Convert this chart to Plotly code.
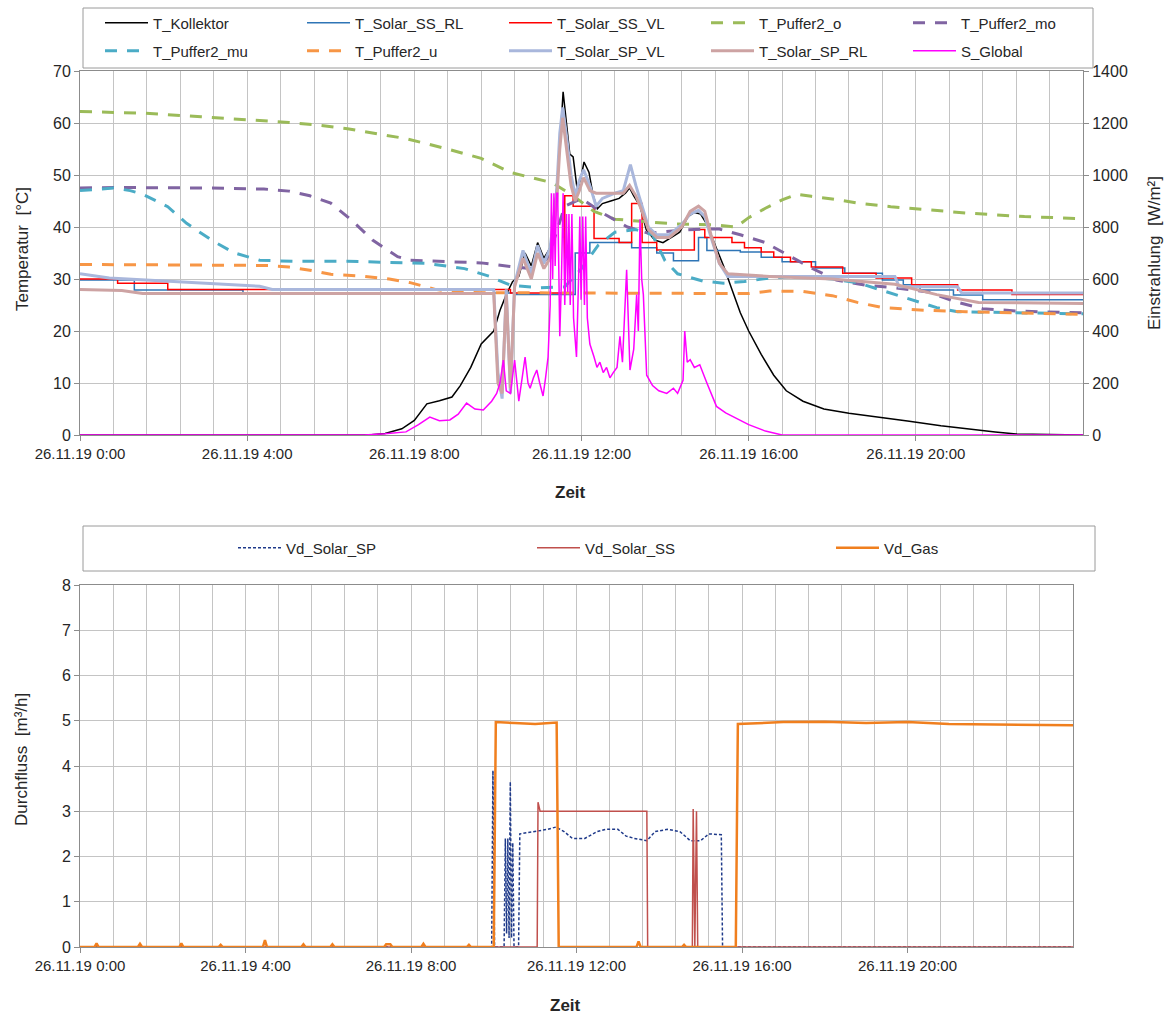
import plotly.graph_objects as go

W, H = 1171, 1018

hour_ticks = [0, 4, 8, 12, 16, 20]
hour_tick_text = ["26.11.19 0:00", "26.11.19 4:00", "26.11.19 8:00",
                  "26.11.19 12:00", "26.11.19 16:00", "26.11.19 20:00"]

# ---------- top chart data: (hour, value) ----------
t_kollektor = [(0, 0), (6.9, 0), (7.3, 0.3), (7.7, 1.2), (8.0, 2.8), (8.3, 6.0), (8.6, 6.6), (8.9, 7.3),
               (9.1, 9.5), (9.35, 13.0), (9.6, 17.5), (9.9, 20.0), (10.05, 24.0), (10.2, 27.0), (10.35, 29.5),
               (10.5, 30.5), (10.65, 35.0), (10.8, 32.5), (10.95, 37.0), (11.1, 34.0), (11.25, 36.0),
               (11.4, 47.0), (11.5, 58.0), (11.56, 66.0), (11.64, 60.0), (11.72, 54.0), (11.8, 53.5),
               (11.9, 47.0), (12.0, 50.0), (12.06, 52.5), (12.18, 50.5), (12.28, 46.0), (12.38, 43.5),
               (12.5, 44.5), (12.7, 45.0), (12.9, 45.5), (13.05, 46.5), (13.15, 47.5), (13.25, 46.0),
               (13.4, 44.0), (13.55, 39.5), (13.75, 37.5), (13.95, 37.0), (14.15, 38.0), (14.35, 39.0),
               (14.55, 42.0), (14.7, 42.8), (14.85, 42.5), (15.0, 40.5), (15.2, 36.5), (15.4, 32.5),
               (15.6, 28.0), (15.8, 23.5), (16.0, 20.0), (16.3, 15.5), (16.6, 11.5), (16.9, 8.5),
               (17.3, 6.5), (17.8, 5.0), (18.4, 4.2), (19.0, 3.5), (19.8, 2.7), (20.6, 1.8), (21.3, 1.1),
               (21.9, 0.6), (22.4, 0.2), (24.0, 0.0)]

t_solar_ss_rl = [(0, 29.8), (1.3, 27.9), (3.9, 27.3), (10.4, 27.0), (11.85, 35.0), (12.2, 37.0), (13.2, 36.0),
                 (13.8, 35.0), (14.2, 33.5), (14.8, 38.0), (15.0, 35.5), (15.8, 35.2), (16.3, 34.2),
                 (16.8, 33.3), (17.6, 32.1), (18.3, 31.1), (19.2, 29.8), (19.7, 28.9), (20.1, 27.9),
                 (20.9, 26.9), (21.6, 26.0), (24, 26.0)]

t_solar_ss_vl = [(0, 30.0), (0.9, 29.2), (2.1, 28.0), (10.3, 27.3), (11.6, 46.0), (11.8, 44.0), (12.3, 37.8),
                 (12.9, 37.0), (13.2, 44.5), (13.45, 37.0), (13.8, 35.6), (14.7, 39.5), (14.95, 38.0),
                 (15.6, 37.0), (15.9, 36.0), (16.3, 35.2), (16.6, 34.2), (17.0, 33.3), (17.5, 32.3),
                 (18.25, 31.1), (19.05, 30.2), (19.9, 28.9), (21.0, 27.9), (22.3, 27.0), (24, 27.0)]

t_puffer2_o = [(0, 62.2), (1.5, 61.9), (2.9, 61.2), (3.7, 60.8), (4.4, 60.4), (5.0, 60.1), (5.7, 59.6),
               (6.4, 58.9), (7.2, 57.8), (7.8, 57.0), (8.7, 55.2), (9.6, 53.2), (10.3, 50.5), (10.8, 49.5),
               (11.3, 48.5), (11.8, 46.0), (12.3, 43.0), (12.8, 41.5), (13.5, 41.0), (14.2, 40.6),
               (15.2, 40.4), (15.7, 40.0), (16.0, 41.8), (16.4, 43.6), (16.8, 45.2), (17.15, 46.3),
               (17.5, 45.9), (18.0, 45.4), (18.6, 44.6), (19.4, 43.9), (20.3, 43.3), (21.2, 42.7),
               (22.6, 42.0), (24, 41.6)]

t_puffer2_mo = [(0, 47.5), (1, 47.6), (3, 47.5), (4.4, 47.3), (5.0, 46.9), (5.5, 46.0), (6.0, 44.6),
                (6.5, 41.3), (7.0, 37.5), (7.6, 34.3), (7.9, 33.6), (8.7, 33.4), (9.6, 33.1), (10.4, 32.3),
                (10.8, 32.0), (11.2, 34.0), (11.6, 44.0), (12.0, 45.5), (12.5, 42.7), (13.1, 40.0),
                (13.6, 38.8), (14.4, 39.4), (14.9, 39.6), (15.3, 39.6), (15.8, 38.5), (16.4, 37.0),
                (16.8, 35.2), (17.5, 32.1), (18.1, 29.8), (18.8, 28.8), (19.5, 28.3), (20.3, 27.5),
                (21.0, 25.5), (21.6, 24.3), (22.5, 23.8), (24, 23.5)]

t_puffer2_mu = [(0, 47.0), (0.8, 47.5), (1.2, 47.0), (1.5, 46.3), (2.1, 43.9), (2.55, 40.7), (3.2, 37.2),
                (3.7, 35.0), (4.3, 33.6), (5.1, 33.4), (6.4, 33.4), (7.3, 33.2), (8.3, 33.0), (9.2, 32.0),
                (9.8, 30.5), (10.3, 28.8), (11.0, 28.3), (11.6, 28.5), (12.0, 32.0), (12.4, 36.5),
                (12.8, 39.0), (13.3, 39.5), (13.7, 38.5), (14.0, 33.5), (14.3, 31.0), (14.9, 29.6),
                (15.4, 29.2), (15.9, 29.5), (16.5, 30.2), (17.2, 30.5), (18.0, 30.0), (18.6, 29.3),
                (19.3, 27.5), (19.9, 26.0), (20.5, 24.5), (21.0, 23.7), (22.5, 23.5), (24, 23.3)]

t_puffer2_u = [(0, 32.8), (4.5, 32.6), (5.0, 32.3), (5.5, 31.7), (6.0, 30.9), (6.7, 30.6), (7.4, 30.0),
               (7.9, 29.3), (8.5, 28.0), (9.0, 27.4), (12, 27.3), (16.0, 27.2), (16.5, 27.7), (17.3, 27.6),
               (18.0, 26.8), (18.6, 25.5), (19.2, 24.5), (20.2, 24.0), (21.2, 23.7), (24, 23.2)]

t_solar_sp_vl = [(0, 31.0), (0.7, 30.2), (4.3, 28.6), (4.6, 28.0), (9.9, 28.0), (10.0, 12), (10.1, 7),
                 (10.2, 28), (10.3, 8), (10.4, 29), (10.6, 35.5), (10.8, 31), (10.95, 36.5), (11.1, 33),
                 (11.25, 36), (11.4, 46), (11.48, 58), (11.55, 63), (11.65, 57), (11.75, 50), (11.85, 46),
                 (11.95, 49), (12.05, 51), (12.2, 48), (12.35, 44), (12.5, 45.5), (12.8, 46.5), (13.0, 47.0),
                 (13.17, 52.0), (13.3, 48), (13.45, 44), (13.6, 40), (13.8, 38.5), (14.1, 38.5),
                 (14.4, 40.5), (14.6, 42.5), (14.8, 43.2), (14.95, 42), (15.1, 38), (15.3, 33), (15.5, 30.5),
                 (19.5, 30.5), (19.6, 28.5), (21.0, 28.5), (21.1, 27.3), (24, 27.3)]

t_solar_sp_rl = [(0, 28.0), (1.0, 27.8), (1.5, 27.2), (9.9, 27.2), (10.0, 10), (10.1, 8), (10.2, 27),
                 (10.3, 9), (10.4, 28.5), (10.6, 34), (10.8, 30), (10.95, 35), (11.1, 32), (11.25, 34),
                 (11.4, 44), (11.48, 55), (11.55, 61), (11.65, 55), (11.75, 48), (11.85, 45), (11.95, 47),
                 (12.05, 49.5), (12.2, 47), (12.35, 46.5), (12.5, 46.5), (12.8, 46.5), (13.0, 46.5),
                 (13.15, 48), (13.3, 46), (13.45, 43), (13.6, 39.5), (13.8, 38), (14.1, 38), (14.4, 40),
                 (14.6, 43), (14.8, 44.0), (14.95, 43), (15.1, 38.5), (15.3, 33), (15.5, 31.0), (16.5, 30.5),
                 (18.0, 30.0), (19.5, 29.0), (20.5, 27.0), (21.5, 25.5), (24, 25.3)]

s_global = [(0, 0), (6.8, 0), (7.3, 5), (7.8, 12), (8.1, 40), (8.37, 69), (8.6, 55), (8.85, 58), (9.05, 80),
            (9.25, 123), (9.45, 100), (9.65, 96), (9.85, 130), (9.97, 160), (10.05, 200), (10.13, 288),
            (10.2, 170), (10.3, 160), (10.4, 288), (10.45, 200), (10.5, 130), (10.58, 220), (10.65, 300),
            (10.72, 200), (10.77, 180), (10.85, 220), (10.93, 250), (11.0, 200), (11.08, 150), (11.14, 220),
            (11.2, 300), (11.25, 500), (11.28, 930), (11.31, 600), (11.34, 930), (11.37, 650), (11.4, 930),
            (11.43, 930), (11.46, 500), (11.48, 380), (11.52, 600), (11.56, 930), (11.6, 500), (11.64, 850),
            (11.67, 550), (11.7, 850), (11.73, 500), (11.77, 850), (11.81, 450), (11.85, 350), (11.88, 300),
            (11.93, 600), (11.96, 840), (11.99, 520), (12.03, 840), (12.07, 500), (12.1, 840), (12.14, 450),
            (12.2, 350), (12.3, 300), (12.37, 260), (12.44, 280), (12.52, 240), (12.6, 260), (12.68, 220),
            (12.76, 240), (12.85, 260), (12.92, 380), (12.98, 280), (13.08, 635), (13.16, 250), (13.25, 330),
            (13.32, 540), (13.36, 400), (13.4, 830), (13.44, 600), (13.48, 540), (13.56, 230), (13.7, 190),
            (13.85, 170), (14.04, 160), (14.2, 180), (14.3, 160), (14.43, 210), (14.47, 400), (14.53, 280),
            (14.6, 290), (14.7, 260), (14.83, 270), (15.0, 200), (15.23, 110), (15.45, 85), (15.63, 70),
            (16.0, 40), (16.4, 15), (16.8, 0), (24, 0)]

# ---------- bottom chart data ----------
vd_solar_sp = [(0, 0), (9.95, 0), (9.98, 3.9), (10.02, 0), (10.25, 0), (10.28, 2.4), (10.31, 0.3),
               (10.34, 2.4), (10.37, 0.2), (10.4, 3.65), (10.43, 0.2), (10.46, 2.3), (10.49, 0), (10.6, 0),
               (10.63, 2.5), (11.0, 2.55), (11.3, 2.6), (11.5, 2.65), (11.7, 2.55), (11.9, 2.4), (12.2, 2.4),
               (12.5, 2.55), (12.7, 2.6), (13.0, 2.6), (13.2, 2.45), (13.4, 2.4), (13.7, 2.35), (13.9, 2.55),
               (14.2, 2.6), (14.5, 2.55), (14.75, 2.35), (15.0, 2.35), (15.2, 2.5), (15.5, 2.48),
               (15.53, 0), (24, 0)]

vd_solar_ss = [(0, 0), (11.05, 0), (11.07, 3.2), (11.12, 3.0), (13.7, 3.0), (13.72, 0), (14.8, 0),
               (14.82, 3.05), (14.86, 0), (14.9, 3.0), (14.93, 0), (24, 0)]

vd_gas = [(0, 0), (0.35, 0), (0.4, 0.08), (0.45, 0), (1.4, 0), (1.45, 0.07), (1.5, 0), (2.4, 0), (2.45, 0.08),
          (2.5, 0), (3.35, 0), (3.4, 0.05), (3.45, 0), (4.42, 0), (4.47, 0.15), (4.52, 0), (5.35, 0),
          (5.4, 0.06), (5.45, 0), (6.05, 0), (6.1, 0.06), (6.15, 0), (7.35, 0), (7.4, 0.06), (7.5, 0.06),
          (7.55, 0), (8.25, 0), (8.3, 0.07), (8.35, 0), (9.35, 0), (9.4, 0.05), (9.45, 0), (10.0, 0),
          (10.05, 4.97), (10.5, 4.95), (11.0, 4.93), (11.52, 4.96), (11.57, 0), (13.45, 0), (13.5, 0.12),
          (13.55, 0), (14.55, 0), (14.6, 0.05), (14.65, 0), (15.85, 0), (15.9, 4.93), (17, 4.97),
          (18, 4.98), (19, 4.95), (20, 4.97), (21, 4.93), (22, 4.92), (23, 4.9), (24, 4.9)]


def xs(p):
    return [a for a, _ in p]


def ys(p):
    return [b for _, b in p]


FONT = "Liberation Sans, Arial, sans-serif"
TXT = "#262626"
GRID = "#C4C4C4"
FRAME = "#8C8C8C"
DASH = "12px,10px"

fig = go.Figure()


def add(name, data, color, width, legend, dash=None, yaxis="y", xaxis="x", shape="linear"):
    fig.add_trace(go.Scatter(x=xs(data), y=ys(data), name=name, mode="lines",
                             line=dict(color=color, width=width, dash=dash, shape=shape),
                             legend=legend, xaxis=xaxis, yaxis=yaxis))


add("T_Kollektor", t_kollektor, "#000000", 1.5, "legend")
add("T_Solar_SS_RL", t_solar_ss_rl, "#2E75B6", 1.5, "legend", shape="hv")
add("T_Solar_SS_VL", t_solar_ss_vl, "#FF0000", 1.5, "legend", shape="hv")
add("T_Puffer2_o", t_puffer2_o, "#9BBB59", 3, "legend", dash=DASH)
add("T_Puffer2_mo", t_puffer2_mo, "#8064A2", 3, "legend", dash=DASH)
add("T_Puffer2_mu", t_puffer2_mu, "#4BACC6", 3, "legend2", dash=DASH)
add("T_Puffer2_u", t_puffer2_u, "#F79646", 3, "legend2", dash=DASH)
add("T_Solar_SP_VL", t_solar_sp_vl, "#A9B7DC", 3, "legend2")
add("T_Solar_SP_RL", t_solar_sp_rl, "#CDA3A3", 3, "legend2")
add("S_Global", s_global, "#FF00FF", 1.5, "legend2", yaxis="y2")

add("Vd_Solar_SP", vd_solar_sp, "#1F3A8A", 1.5, "legend3", dash="3px,2px", xaxis="x2", yaxis="y3")
add("Vd_Solar_SS", vd_solar_ss, "#C0504D", 1.5, "legend3", xaxis="x2", yaxis="y3")
add("Vd_Gas", vd_gas, "#F07F1E", 2.5, "legend3", xaxis="x2", yaxis="y3")

tickfont = dict(family=FONT, size=16, color=TXT)
xtickfont = dict(family=FONT, size=15, color=TXT)


def xaxis_cfg(domain, anchor):
    return dict(domain=domain, anchor=anchor, range=[0, 24], tickmode="array", tickvals=hour_ticks,
                ticktext=hour_tick_text, showgrid=True, gridcolor=GRID, gridwidth=1,
                minor=dict(tickmode="linear", tick0=0, dtick=0.8, showgrid=True, gridcolor=GRID, gridwidth=1),
                showline=True, linecolor=FRAME, linewidth=1, mirror=True, ticks="outside", ticklen=5,
                tickcolor=FRAME, tickfont=xtickfont, zeroline=False, automargin=False)


def yaxis_cfg(domain, anchor, rng, dtick):
    return dict(domain=domain, anchor=anchor, range=rng, dtick=dtick, showgrid=True, gridcolor=GRID,
                gridwidth=1, showline=True, linecolor=FRAME, linewidth=1, mirror=True, ticks="outside",
                ticklen=5, tickcolor=FRAME, tickfont=tickfont, zeroline=False, automargin=False)


legend_common = dict(orientation="h", itemwidth=43, entrywidthmode="pixels", bgcolor="rgba(0,0,0,0)",
                     borderwidth=0, font=dict(family=FONT, size=15, color=TXT), xanchor="left",
                     yanchor="middle", itemclick=False, itemdoubleclick=False)

fig.update_layout(
    width=W, height=H, margin=dict(l=0, r=0, t=0, b=0),
    paper_bgcolor="white", plot_bgcolor="white",
    font=dict(family=FONT, color=TXT),
    xaxis=xaxis_cfg([80 / W, 1083 / W], "y"),
    yaxis=yaxis_cfg([1 - 435 / H, 1 - 71 / H], "x", [0, 70], 10),
    yaxis2=dict(overlaying="y", side="right", anchor="x", range=[0, 1400], dtick=200, showgrid=False,
                showline=True, linecolor=FRAME, ticks="outside", ticklen=5, tickcolor=FRAME,
                tickfont=tickfont, zeroline=False, automargin=False),
    xaxis2=xaxis_cfg([80 / W, 1073 / W], "y3"),
    yaxis3=yaxis_cfg([1 - 947 / H, 1 - 585 / H], "x2", [0, 8], 1),
    legend=dict(legend_common, x=100 / W, y=1 - 23 / H, entrywidth=144),
    legend2=dict(legend_common, x=100 / W, y=1 - 51 / H, entrywidth=144),
    legend3=dict(legend_common, x=233 / W, y=1 - 548 / H, entrywidth=241),
    showlegend=True,
    shapes=[
        dict(type="rect", xref="paper", yref="paper", x0=83 / W, x1=1093 / W, y0=1 - 68 / H, y1=1 - 8 / H,
             line=dict(color="#9A9A9A", width=1), fillcolor="rgba(0,0,0,0)", layer="below"),
        dict(type="rect", xref="paper", yref="paper", x0=83 / W, x1=1095 / W, y0=1 - 571 / H, y1=1 - 526 / H,
             line=dict(color="#9A9A9A", width=1), fillcolor="rgba(0,0,0,0)", layer="below"),
    ],
    annotations=[
        dict(text="<b>Zeit</b>", x=570 / W, y=1 - 493 / H, xref="paper", yref="paper", showarrow=False,
             font=dict(family=FONT, size=17, color=TXT), xanchor="center", yanchor="middle"),
        dict(text="<b>Zeit</b>", x=565 / W, y=1 - 1005 / H, xref="paper", yref="paper", showarrow=False,
             font=dict(family=FONT, size=17, color=TXT), xanchor="center", yanchor="middle"),
        dict(text="Temperatur  [°C]", x=22 / W, y=1 - 249 / H, xref="paper", yref="paper", showarrow=False,
             textangle=-90, font=dict(family=FONT, size=17, color=TXT), xanchor="center", yanchor="middle"),
        dict(text="Einstrahlung  [W/m²]", x=1155 / W, y=1 - 253 / H, xref="paper", yref="paper",
             showarrow=False, textangle=-90, font=dict(family=FONT, size=17, color=TXT),
             xanchor="center", yanchor="middle"),
        dict(text="Durchfluss  [m³/h]", x=21 / W, y=1 - 760 / H, xref="paper", yref="paper", showarrow=False,
             textangle=-90, font=dict(family=FONT, size=17, color=TXT), xanchor="center", yanchor="middle"),
    ],
)

fig.write_html("out.html")
